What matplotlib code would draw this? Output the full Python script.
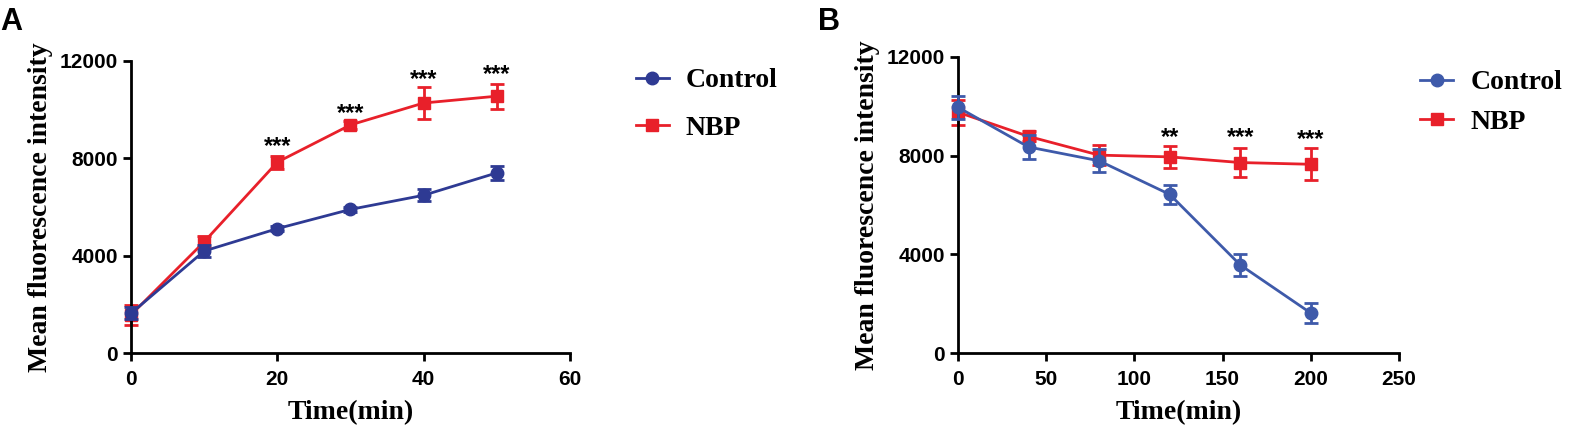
import matplotlib
matplotlib.use("Agg")
import matplotlib.pyplot as plt
from matplotlib.lines import Line2D

# Panel A data
tA = [0, 10, 20, 30, 40, 50]
ctrlA = [1630, 4190, 5110, 5900, 6480, 7400]
ctrlA_err = [250, 250, 100, 100, 250, 300]
nbpA = [1570, 4570, 7840, 9370, 10270, 10550]
nbpA_err = [420, 250, 270, 150, 650, 520]
starsA_t = [20, 30, 40, 50]
starsA_txt = ["***", "***", "***", "***"]
starsA_y = [8000, 9350, 10750, 10950]

# Panel B data
tB = [0, 40, 80, 120, 160, 200]
ctrlB = [9960, 8350, 7790, 6430, 3570, 1620]
ctrlB_err = [470, 470, 470, 380, 440, 390]
nbpB = [9760, 8780, 8020, 7950, 7720, 7650]
nbpB_err = [500, 200, 400, 450, 600, 640]
starsB_t = [120, 160, 200]
starsB_txt = ["**", "***", "***"]
starsB_y = [8280, 8280, 8180]

xticksA = [0, 20, 40, 60]
xticksB = [0, 50, 100, 150, 200, 250]
yticks = [0, 4000, 8000, 12000]

red = "#E8202A"
blueA = "#2E3A93"
blueB = "#3E5AAA"

fig = plt.figure(figsize=(15.71, 4.38), dpi=100)
sans = "Liberation Sans"
serif = "Liberation Serif"

def panel(rect, t, c, ce, n, ne, st, stxt, sy, xt, xmax, blue, letter, letter_x,
          leg_x, leg_y0, leg_dy):
    ax = fig.add_axes(rect)
    ax.errorbar(t, c, yerr=ce, color=blue, lw=2, marker="o", ms=9, capsize=5,
                capthick=2, elinewidth=2, zorder=3, clip_on=False)
    ax.errorbar(t, n, yerr=ne, color=red, lw=2, marker="s", ms=9, capsize=5,
                capthick=2, elinewidth=2, zorder=2, clip_on=False)
    for x, s, y in zip(st, stxt, sy):
        ax.text(x, y, s, ha="center", va="bottom", fontsize=17, fontweight="bold",
                family=sans)
    ax.set_xlim(0, xmax)
    ax.set_ylim(0, 12000)
    ax.set_xticks(xt)
    ax.set_yticks(yticks)
    for s in ["top", "right"]:
        ax.spines[s].set_visible(False)
    for s in ["left", "bottom"]:
        ax.spines[s].set_linewidth(2)
    ax.tick_params(direction="out", length=6, width=2, labelsize=15)
    ax.tick_params(axis="x", pad=6)
    for lab in ax.get_xticklabels() + ax.get_yticklabels():
        lab.set_fontweight("bold")
        lab.set_family(sans)
    ax.set_xlabel("Time(min)", fontsize=20, fontweight="bold", family=serif, labelpad=8)
    ax.set_ylabel("Mean fluorescence intensity", fontsize=20, fontweight="bold",
                  family=serif, labelpad=5)
    fig.text(letter_x, 0.985, letter, fontsize=22, fontweight="bold", family=sans,
             va="top", ha="left")
    handles = [Line2D([0], [0], color=blue, lw=2, marker="o", ms=9),
               Line2D([0], [0], color=red, lw=2, marker="s", ms=9)]
    ax.legend(handles, ["Control", "NBP"], loc="upper left",
              bbox_to_anchor=(leg_x, leg_y0), frameon=False, handlelength=1.2,
              prop={"family": serif, "weight": "bold", "size": 20},
              labelspacing=leg_dy, handletextpad=0.6, borderaxespad=0, borderpad=0)
    return ax

panel([0.0834, 0.194, 0.2794, 0.667], tA, ctrlA, ctrlA_err, nbpA, nbpA_err,
      starsA_t, starsA_txt, starsA_y, xticksA, 60, blueA, "A", 0.0,
      1.15, 0.976, 0.8)
panel([0.6098, 0.194, 0.2807, 0.676], tB, ctrlB, ctrlB_err, nbpB, nbpB_err,
      starsB_t, starsB_txt, starsB_y, xticksB, 250, blueB, "B", 0.521,
      1.048, 0.956, 0.5)

fig.savefig("out.png", dpi=100)
